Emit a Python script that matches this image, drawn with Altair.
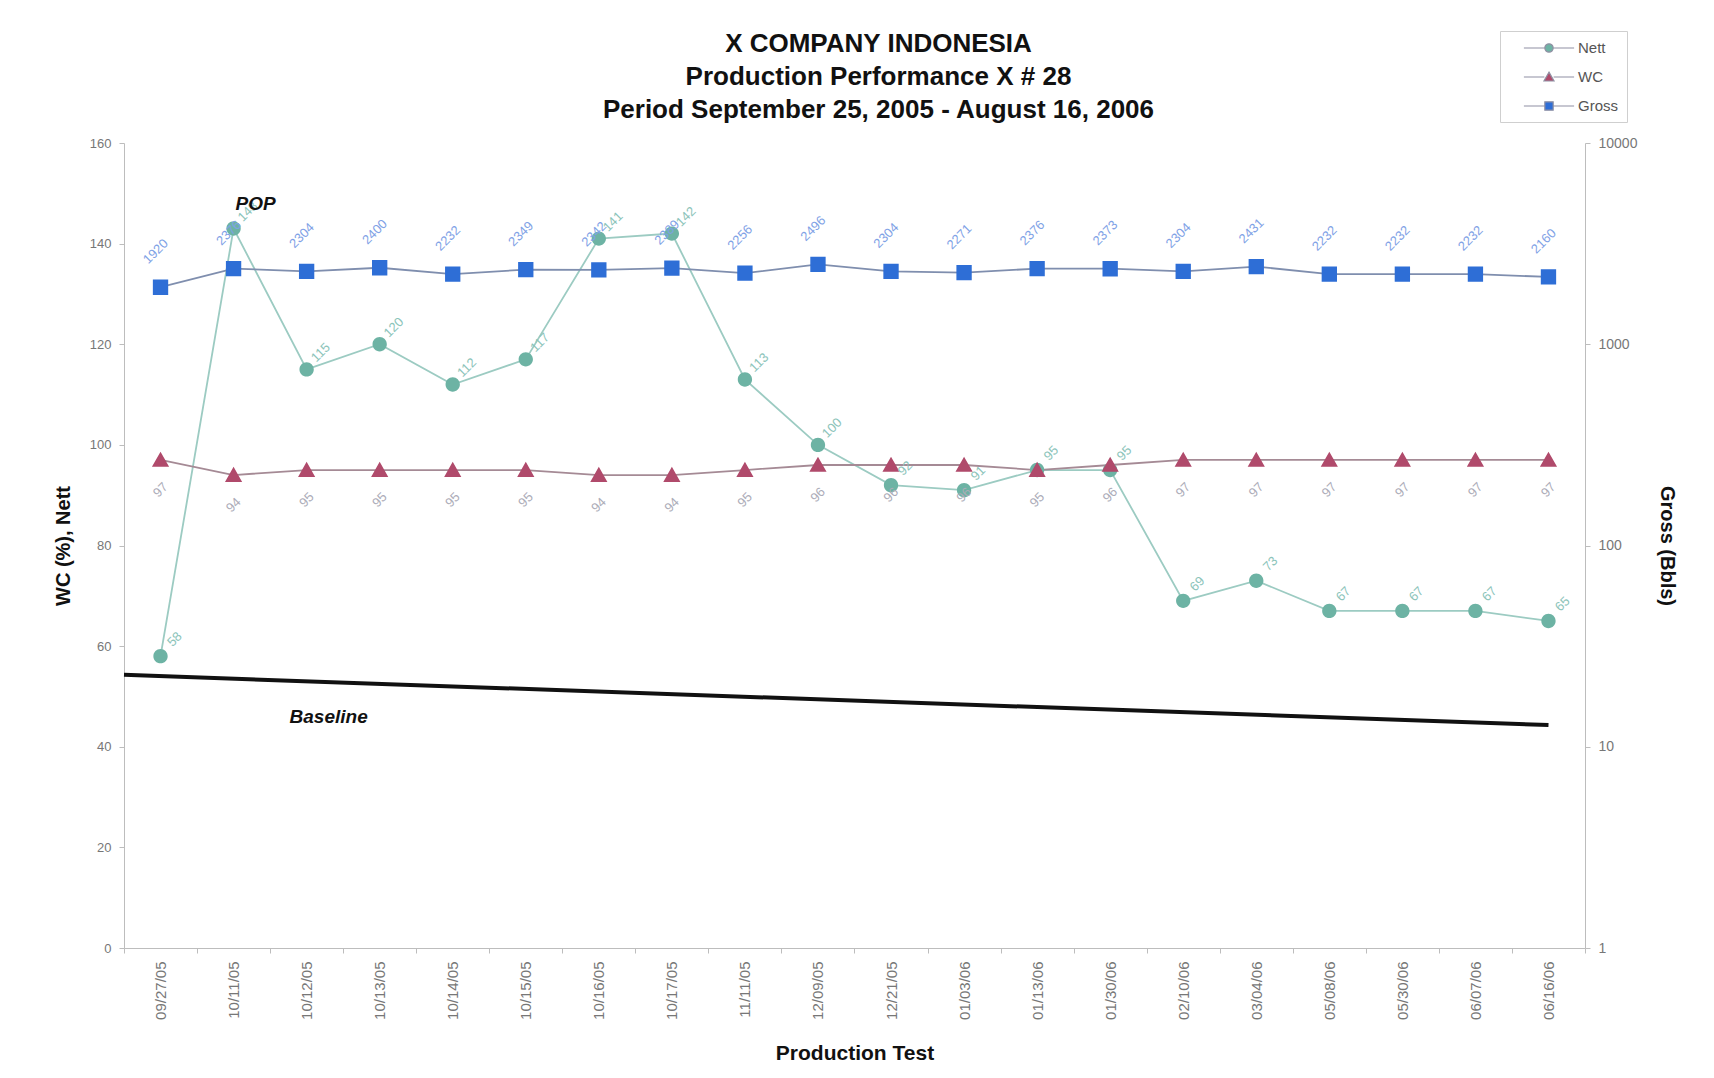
import altair as alt
import pandas as pd

# ---------------- data ----------------
dates = ["09/27/05", "10/11/05", "10/12/05", "10/13/05", "10/14/05", "10/15/05",
         "10/16/05", "10/17/05", "11/11/05", "12/09/05", "12/21/05", "01/03/06",
         "01/13/06", "01/30/06", "02/10/06", "03/04/06", "05/08/06", "05/30/06",
         "06/07/06", "06/16/06"]
nett = [58, 143, 115, 120, 112, 117, 141, 142, 113, 100, 92, 91, 95, 95, 69, 73, 67, 67, 67, 65]
wc = [97, 94, 95, 95, 95, 95, 94, 94, 95, 96, 96, 96, 95, 96, 97, 97, 97, 97, 97, 97]
gross = [1920, 2376, 2304, 2400, 2232, 2349, 2342, 2389, 2256, 2496, 2304, 2271, 2376,
         2373, 2304, 2431, 2232, 2232, 2232, 2160]
series_names = ["Nett", "WC", "Gross"]
baseline_start = [54.3]
baseline_end = [44.3]
annotation_text = ["POP", "Baseline"]
annotation_dates = ["10/11/05", "10/12/05"]
annotation_values = [147.8, 45.9]
title_lines = ["X COMPANY INDONESIA", "Production Performance X # 28",
               "Period September 25, 2005 -  August 16, 2006"]
left_ticks = [0, 20, 40, 60, 80, 100, 120, 140, 160]
right_ticks = [1, 10, 100, 1000, 10000]

# ---------------- styling ----------------
FONT = "Liberation Sans"
marker_colors = ["#6db3a4", "#b04a6b", "#2e6ed6"]
nett_line_color = "#9ccbc2"
wc_line_color = "#a58a95"
gross_line_color = "#7f8eae"
nett_label_color = "#8cc4ba"
wc_label_color = "#acacb8"
gross_label_color = "#7fa2e6"

circle_path = "M-3,0H-0.5M0.5,0H3M0.5,0A0.5,0.5,0,1,1,-0.5,0A0.5,0.5,0,1,1,0.5,0Z"
triangle_path = "M-3,0H-0.55M0.55,0H3M0,-0.58L0.6,0.48L-0.6,0.48Z"
square_path = "M-3,0H-0.5M0.5,0H3M-0.5,-0.5H0.5V0.5H-0.5Z"

left_df = pd.DataFrame({
    "date": dates * 2,
    "series": ["Nett"] * len(dates) + ["WC"] * len(dates),
    "value": nett + wc,
})
nett_df = left_df[left_df.series == "Nett"]
wc_df = left_df[left_df.series == "WC"]
gross_df = pd.DataFrame({"date": dates, "series": ["Gross"] * len(dates), "value": gross})
base_df = pd.DataFrame({"date_start": [dates[0]], "date_end": [dates[-1]],
                        "start": baseline_start, "end": baseline_end})
ann_df = pd.DataFrame({"date": annotation_dates, "value": annotation_values, "text": annotation_text})

x_scale = alt.Scale(type="band", domain=dates, paddingInner=0, paddingOuter=0)
x_axis = alt.Axis(title="Production Test", labelAngle=270, tickBand="extent",
                  labelPadding=8, tickSize=5, titlePadding=23, grid=False,
                  labelFontSize=15, titleFontSize=21)
x_enc = alt.X("date:N", scale=x_scale, axis=x_axis)

left_scale = alt.Scale(domain=[0, 160], nice=False, zero=True)
left_axis = alt.Axis(title="WC (%), Nett", orient="left", values=left_ticks, grid=False,
                     tickSize=5, labelPadding=8, titlePadding=16)
right_scale = alt.Scale(type="log", domain=[1, 10000], nice=False)
right_axis = alt.Axis(title="Gross (Bbls)", orient="right", values=right_ticks, format="d",
                      grid=False, tickSize=5, labelPadding=8, titlePadding=20,
                      labelFontSize=14)

color_scale = alt.Scale(domain=series_names, range=marker_colors)
shape_scale = alt.Scale(domain=series_names, range=[circle_path, triangle_path, square_path])
legend = alt.Legend(title=None, orient="none", legendX=1376, legendY=-112,
                    padding=8, strokeColor="#cfcfcf", fillColor="white",
                    labelFont=FONT, labelFontSize=15, labelColor="#555",
                    symbolSize=280, symbolOffset=32, labelOffset=20, rowPadding=12,
                    symbolStrokeColor="#8f90a3", symbolStrokeWidth=1.2)

yl = alt.Y("value:Q", scale=left_scale, axis=left_axis)
yr = alt.Y("value:Q", scale=right_scale, axis=right_axis)

# ---------- left (linear) layers ----------
nett_line = alt.Chart(nett_df).mark_line(strokeWidth=1.8, color=nett_line_color).encode(
    x=x_enc, y=yl)
wc_line = alt.Chart(wc_df).mark_line(strokeWidth=1.8, color=wc_line_color).encode(
    x=x_enc, y=yl)
left_points = alt.Chart(left_df).mark_point(filled=True, size=820, opacity=1).encode(
    x=x_enc, y=yl,
    color=alt.Color("series:N", scale=color_scale, legend=legend),
    shape=alt.Shape("series:N", scale=shape_scale, legend=legend),
)
nett_labels = alt.Chart(nett_df).mark_text(
    angle=315, radius=22, theta=0.7, font=FONT, fontSize=13, color=nett_label_color
).encode(x=x_enc, y=yl, text="value:Q")
wc_labels = alt.Chart(wc_df).mark_text(
    angle=315, radius=30, theta=3.14, font=FONT, fontSize=13, color=wc_label_color
).encode(x=x_enc, y=yl, text="value:Q")
baseline = alt.Chart(base_df).mark_rule(color="#111111", strokeWidth=4).encode(
    x=alt.X("date_start:N", scale=x_scale, axis=x_axis, bandPosition=0),
    x2=alt.X2("date_end:N", bandPosition=0.5),
    y=alt.Y("start:Q", scale=left_scale, axis=left_axis),
    y2="end:Q",
)
annotations = alt.Chart(ann_df).mark_text(
    font=FONT, fontSize=19, fontWeight="bold", fontStyle="italic", color="#111", dx=22
).encode(x=x_enc, y=alt.Y("value:Q", scale=left_scale, axis=left_axis), text="text:N")

left = alt.layer(nett_line, wc_line, baseline, left_points, nett_labels, wc_labels, annotations)

# ---------- right (log) layers ----------
gross_line = alt.Chart(gross_df).mark_line(strokeWidth=1.8, color=gross_line_color).encode(
    x=x_enc, y=yr)
gross_points = alt.Chart(gross_df).mark_point(filled=True, size=940, opacity=1).encode(
    x=x_enc, y=yr,
    color=alt.Color("series:N", scale=color_scale, legend=legend),
    shape=alt.Shape("series:N", scale=shape_scale, legend=legend),
)
gross_labels = alt.Chart(gross_df).mark_text(
    angle=315, radius=36, theta=6.15, font=FONT, fontSize=13, color=gross_label_color
).encode(x=x_enc, y=yr, text="value:Q")
right = alt.layer(gross_line, gross_points, gross_labels)

chart = alt.layer(left, right).resolve_scale(y="independent").properties(
    width=1461, height=805,
    padding={"left": 45, "top": 22, "right": 10, "bottom": 10},
    background="white",
    title=alt.Title(text=title_lines, font=FONT, fontSize=26, fontWeight="bold",
                    color="#111", anchor="middle", lineHeight=33, offset=-92, dx=24),
).configure_view(stroke=None).configure_axis(
    domainColor="#bdbdbd", tickColor="#bdbdbd", labelColor="#777", labelFont=FONT,
    labelFontSize=13, titleFont=FONT, titleFontSize=20, titleFontWeight="bold",
    titleColor="#111",
)

chart.save("out.html", embed_options={"renderer": "svg", "actions": False})
